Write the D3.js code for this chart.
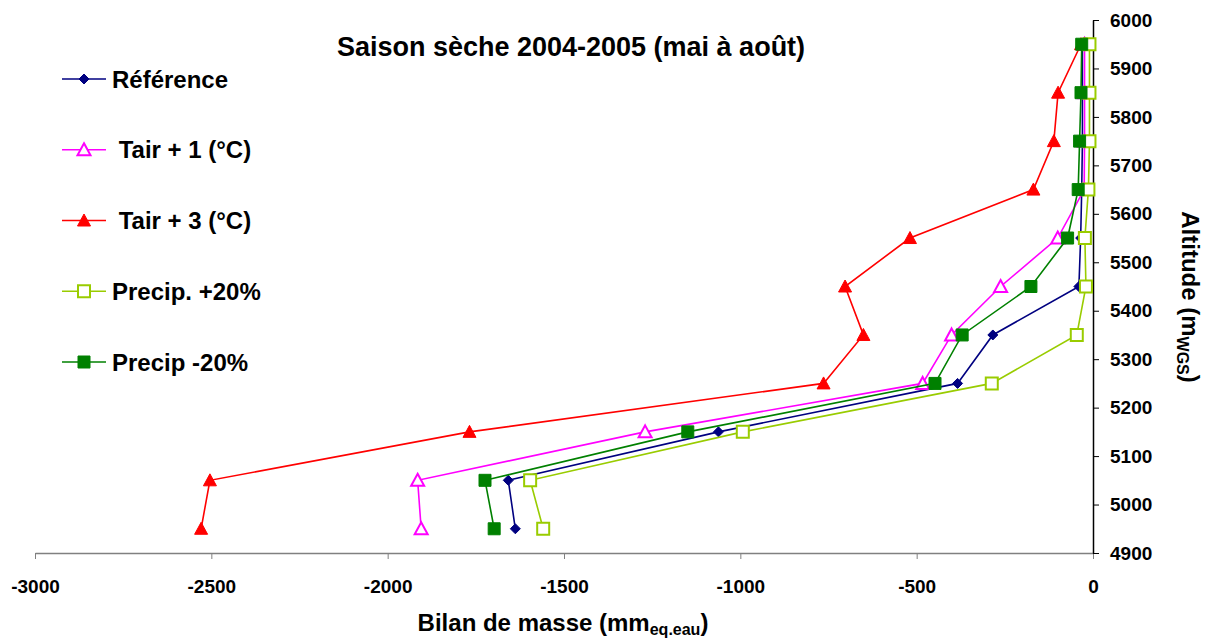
<!DOCTYPE html>
<html lang="fr">
<head>
  <meta charset="UTF-8">
  <style>
    body { margin: 0; background: #fff; }
    svg { font-family: "Liberation Sans", Arial, sans-serif; font-weight: bold; }
    .x-axis path, .x-axis line { stroke: #808080; }
    .y-axis path, .y-axis line { stroke: #000; }
    .tick text { font-size: 19px; font-weight: bold; fill: #000; }
    .legend text { font-size: 24px; white-space: pre; }
  </style>
</head>
<body>
  <svg id="chart" width="1210" height="640"></svg>
  <script src="https://cdnjs.cloudflare.com/ajax/libs/d3/7.8.5/d3.min.js"></script>
  <script>
    // altitudes of the bands (m)
    const altitudes = [4950, 5050, 5150, 5250, 5350, 5450, 5550, 5650, 5750, 5850, 5950]

    // mass balance (mm w.e.) per band, per scenario
    const reference   = [-1638, -1658, -1062, -384, -284, -40, -35, -32, -30, -30, -30]
    const tairPlus1   = [-1905, -1915, -1270, -483, -401, -262, -100, -25, -24, -24, -24]
    const tairPlus3   = [-2529, -2504, -1768, -764, -651, -703, -519, -169, -111, -99, -34]
    const precipPlus  = [-1559, -1596, -993, -287, -46, -20, -23, -13, -10, -10, -10]
    const precipMinus = [-1698, -1724, -1149, -448, -371, -176, -72, -42, -38, -34, -32]

    const seriesNames = ['Référence', ' Tair + 1 (°C)', ' Tair + 3 (°C)', 'Precip. +20%', 'Precip -20%']
    const xTicks = [-3000, -2500, -2000, -1500, -1000, -500, 0]
    const yTicks = [4900, 5000, 5100, 5200, 5300, 5400, 5500, 5600, 5700, 5800, 5900, 6000]

    const series = [
      { name: seriesNames[0], values: reference,   color: '#000080', marker: 'diamond' },
      { name: seriesNames[1], values: tairPlus1,   color: '#ff00ff', marker: 'triangleOpen' },
      { name: seriesNames[2], values: tairPlus3,   color: '#ff0000', marker: 'triangle' },
      { name: seriesNames[3], values: precipPlus,  color: '#99cc00', marker: 'squareOpen' },
      { name: seriesNames[4], values: precipMinus, color: '#008000', marker: 'square' },
    ]

    const x = d3.scaleLinear().domain([-3000, 0]).range([35, 1093])
    const y = d3.scaleLinear().domain([4900, 6000]).range([553, 20])

    const svg = d3.select('#chart')

    // axes (plain hyphen minus, no thousands separator)
    svg.append('g')
        .attr('class', 'x-axis')
        .attr('transform', `translate(0, ${y(4900)})`)
        .call(d3.axisBottom(x).tickValues(xTicks).tickFormat(d => String(d))
          .tickSize(6).tickSizeOuter(0).tickPadding(21))
    svg.append('g')
        .attr('class', 'y-axis')
        .attr('transform', `translate(${x(0)}, 0)`)
        .call(d3.axisRight(y).tickValues(yTicks).tickFormat(d => String(d))
          .tickSize(6).tickSizeOuter(0).tickPadding(11))
    svg.selectAll('.x-axis path, .y-axis path').attr('stroke-width', 1.5)

    // marker shapes
    function markerPath(type) {
      if (type === 'diamond') return 'M0,-5L5,0L0,5L-5,0Z'
      if (type === 'triangle' || type === 'triangleOpen') return 'M0,-6.5L6.5,5.5L-6.5,5.5Z'
      return 'M-6,-6H6V6H-6Z'
    }
    function drawMarker(sel, s) {
      const open = s.marker.endsWith('Open')
      sel.attr('d', markerPath(s.marker))
        .attr('fill', open ? '#fff' : s.color)
        .attr('stroke', s.color)
        .attr('stroke-width', open ? 2 : 1)
    }

    const line = d3.line()
      .x(d => x(d.v))
      .y(d => y(d.alt))

    series.forEach(s => {
      const pts = s.values.map((v, i) => ({ v: v, alt: altitudes[i] }))
      const g = svg.append('g')
      g.append('path')
          .datum(pts)
          .attr('d', line)
          .attr('fill', 'none')
          .attr('stroke', s.color)
          .attr('stroke-width', 1.6)
      g.selectAll('path.mk')
          .data(pts)
        .enter().append('path')
          .attr('class', 'mk')
          .attr('transform', d => `translate(${x(d.v)}, ${y(d.alt)})`)
          .call(drawMarker, s)
    })

    // legend
    const legend = svg.append('g').attr('class', 'legend')
    const legendY = d3.scalePoint().domain(seriesNames).range([79, 362])
    series.forEach(s => {
      const row = legend.append('g').attr('transform', `translate(0, ${legendY(s.name)})`)
      row.append('line')
          .attr('x1', 62).attr('x2', 106)
          .attr('stroke', s.color).attr('stroke-width', 1.6)
      row.append('path')
          .attr('transform', 'translate(84, 0)')
          .call(drawMarker, s)
      row.append('text')
          .attr('x', 112)
          .attr('dy', '0.36em')
          .text(s.name)
    })

    // title
    svg.append('text')
        .attr('x', 571).attr('y', 56)
        .attr('text-anchor', 'middle')
        .attr('font-size', 27)
        .text('Saison sèche 2004-2005 (mai à août)')

    // x title
    const xt = svg.append('text')
        .attr('x', 563).attr('y', 631)
        .attr('text-anchor', 'middle')
        .attr('font-size', 24)
    xt.append('tspan').text('Bilan de masse (mm')
    xt.append('tspan').attr('font-size', 16).attr('dy', 4).text('eq.eau')
    xt.append('tspan').attr('dy', -4).text(')')

    // y title
    const yt = svg.append('text')
        .attr('transform', 'translate(1182, 297) rotate(90)')
        .attr('text-anchor', 'middle')
        .attr('font-size', 24)
    yt.append('tspan').text('Altitude (m')
    yt.append('tspan').attr('font-size', 16).attr('dy', 5).text('WGS')
    yt.append('tspan').attr('dy', -5).text(')')
  </script>
</body>
</html>
